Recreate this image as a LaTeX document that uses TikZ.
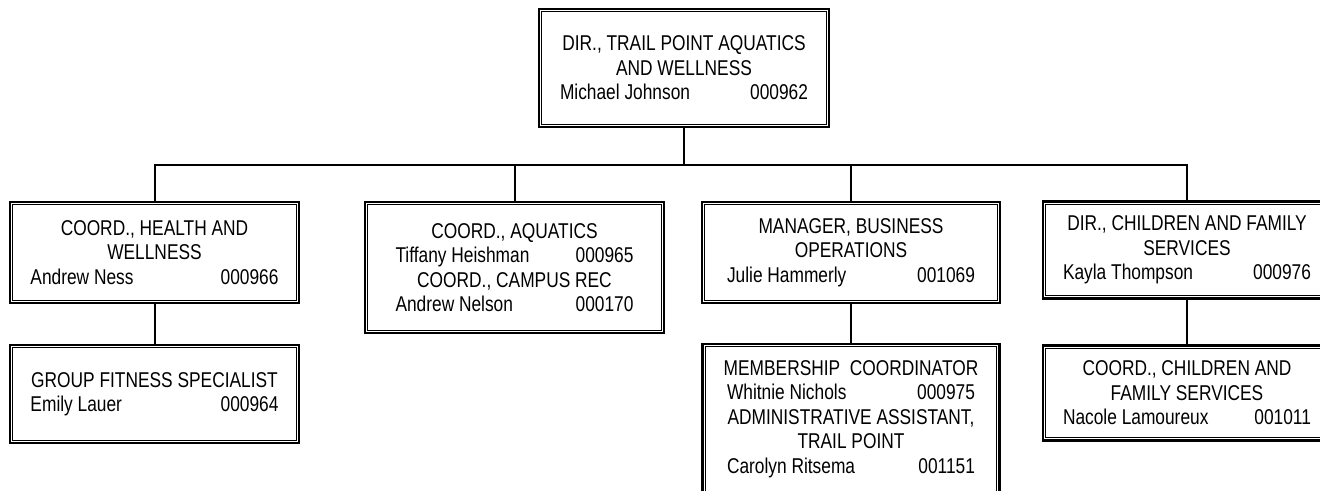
\documentclass[tikz,border=0pt]{standalone}
\usepackage{fontspec}
\setmainfont{Liberation Sans}[FakeStretch=0.81]
\newcommand{\pname}[3][248pt]{\makebox[#1]{#2\hfill #3}}
\begin{document}
\begin{tikzpicture}[x=1pt, y=1pt,
    post/.style={draw, line width=2.2pt, fill=white, align=center, inner sep=0pt,
                 font=\fontsize{21.4}{24.5}\selectfont},
    link/.style={line width=2pt}]
        \path[use as bounding box] (0,0) rectangle (1320,-490);
        \fill[white] (0,0) rectangle (1320,-490);
        \clip (0,0) rectangle (1320,-490);
        \node[post, minimum width=290, minimum height=118] (dir) at (684,-68)
            {DIR., TRAIL POINT AQUATICS\\AND WELLNESS\\\pname{Michael Johnson}{000962}};
        \node[post, minimum width=289, minimum height=101] (health) at (154.5,-252.5)
            {COORD., HEALTH AND\\WELLNESS\\\pname{Andrew Ness}{000966}};
        \node[post, minimum width=299, minimum height=131] (aquatics) at (514.5,-267.5)
            {COORD., AQUATICS\\\pname[238pt]{Tiffany Heishman}{000965}\\COORD., CAMPUS REC\\\pname[238pt]{Andrew Nelson}{000170}};
        \node[post, minimum width=298, minimum height=101] (business) at (851,-252.5)
            {MANAGER, BUSINESS\\OPERATIONS\\\pname{Julie Hammerly}{001069}};
        \node[post, minimum width=288, minimum height=97] (family) at (1187,-250)
            {DIR., CHILDREN AND FAMILY\\SERVICES\\\pname{Kayla Thompson}{000976}};
        \node[post, minimum width=289, minimum height=98] (fitness) at (154.5,-394)
            {GROUP FITNESS SPECIALIST\\\pname{Emily Lauer}{000964}};
        \node[post, minimum width=297, minimum height=150] (member) at (851,-419)
            {MEMBERSHIP~ COORDINATOR\\\pname{Whitnie Nichols}{000975}\\ADMINISTRATIVE ASSISTANT,\\TRAIL POINT\\\pname{Carolyn Ritsema}{001151}};
        \node[post, minimum width=288, minimum height=95] (kids) at (1187,-393)
            {COORD., CHILDREN AND\\FAMILY SERVICES\\\pname{Nacole Lamoureux}{001011}};
        \foreach \n in {dir, health, aquatics, business, family, fitness, member, kids}
            \draw[line width=0.9pt] ([shift={(4,-4)}]\n.north west) rectangle ([shift={(-4,4)}]\n.south east);
        \coordinate (bus) at (684,-165);
        \draw[link] (dir.south) -- (bus);
        \foreach \n in {health, aquatics, business, family}
            \draw[link] (\n.north) |- (bus);
        \draw[link] (health.south) -- (fitness.north);
        \draw[link] (business.south) -- (member.north);
        \draw[link] (family.south) -- (kids.north);
    \end{tikzpicture}
\end{document}
